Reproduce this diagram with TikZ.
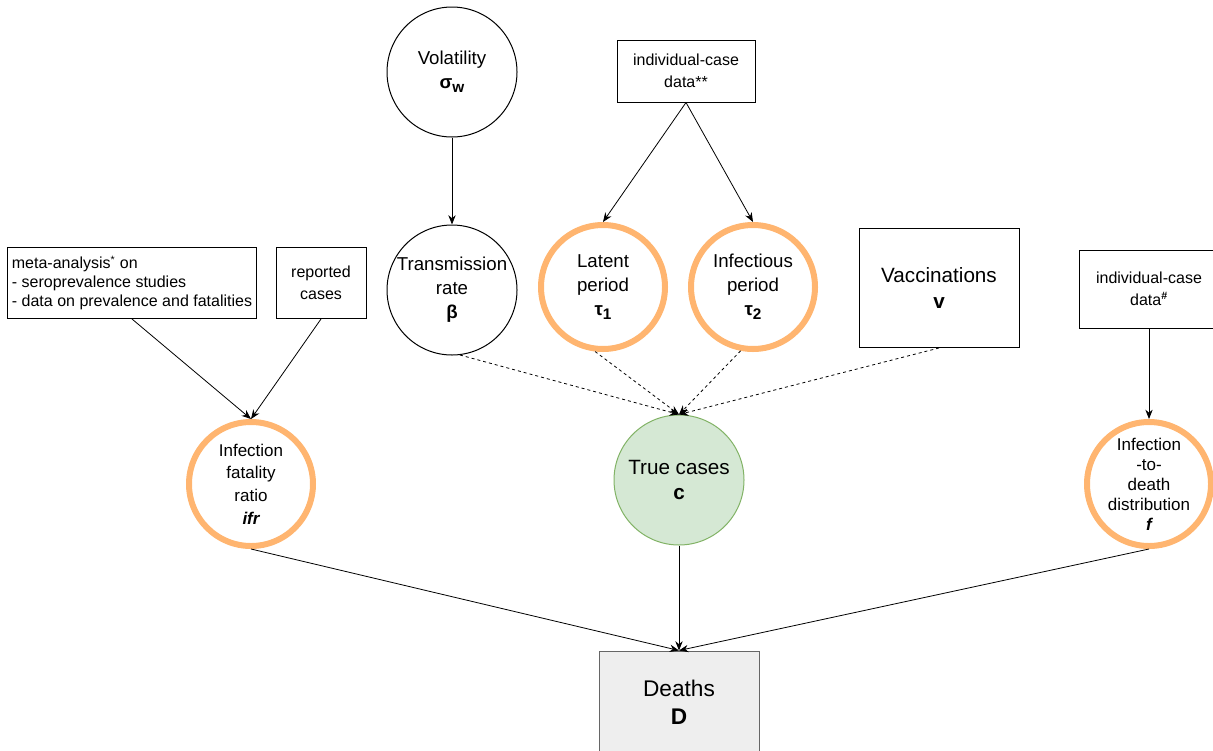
\documentclass[tikz,border=0pt]{standalone}
\usepackage{fontspec}
\setmainfont{Liberation Sans}
\usetikzlibrary{arrows.meta}
\definecolor{ringorange}{RGB}{255,181,112}
\definecolor{truefill}{RGB}{213,232,212}
\definecolor{trueline}{RGB}{130,179,102}
\definecolor{deathfill}{RGB}{238,238,238}
\definecolor{deathline}{RGB}{102,102,102}
\newcommand{\lowsub}[1]{\raisebox{-0.45ex}{\fontsize{11.5}{11.5}\selectfont #1}}
\begin{document}
\begin{tikzpicture}[x=0.75pt,y=-0.75pt,
    param/.style={draw,circle,line width=0.75pt,minimum size=97.5pt,inner sep=-15pt,align=center,font=\fontsize{14}{18}\selectfont},
    prior/.style={param,draw=ringorange,line width=4.5pt,minimum size=93pt},
    datum/.style={draw,rectangle,line width=0.75pt,align=center,font=\fontsize{12}{16.5}\selectfont},
    link/.style={-{Stealth[length=7pt,width=5.5pt]},line width=0.6pt},
    feed/.style={link,dash pattern=on 2.25pt off 2.25pt}]
  \useasboundingbox (0,0) rectangle (1213,750);
  % top row
  \node[param] (vol) at (452,72) {Volatility\\{\bfseries σ\lowsub{w}}};
  \node[datum,minimum width=103.5pt,minimum height=46.5pt] (icd) at (686,71) {individual-case\\data**};
  % parameters of the case model
  \node[param] (trans) at (452,290) {Transmission\\rate\\{\bfseries β}};
  \node[prior] (lat) at (603,287) {Latent\\period\\{\bfseries τ\lowsub{1}}};
  \node[prior] (inf) at (753,287) {Infectious\\period\\{\bfseries τ\lowsub{2}}};
  \node[datum,minimum width=120pt,minimum height=89.25pt,font=\fontsize{15.5}{19}\selectfont] (vacc) at (939,288) {Vaccinations\\{\bfseries v}};
  \node[datum,minimum width=105pt,minimum height=58.5pt] (icd2) at (1149,289) {individual-case\\data\textsuperscript{\bfseries\#}};
  \node[datum,align=left,minimum width=186pt,minimum height=53.25pt,font=\fontsize{12}{14.25}\selectfont] (meta) at (132,283) {meta-analysis\textsuperscript{*} on\\- seroprevalence studies\\- data on prevalence and fatalities};
  \node[datum,minimum width=67.5pt,minimum height=53.25pt] (rep) at (321,283) {reported\\cases};
  % middle row
  \node[prior,font=\fontsize{12.75}{17}\selectfont] (ifr) at (251,484) {Infection\\fatality\\ratio\\{\bfseries\itshape ifr}};
  \node[param,fill=truefill,draw=trueline,font=\fontsize{15.5}{19}\selectfont] (true) at (679,480) {True cases\\{\bfseries c}};
  \node[prior,font=\fontsize{12.75}{15}\selectfont] (itd) at (1149,484) {Infection\\-to-\\death\\distribution\\{\bfseries\itshape f}};
  % observation
  \node[datum,fill=deathfill,draw=deathline,minimum width=120pt,minimum height=76.5pt,font=\fontsize{17}{21}\selectfont] (dth) at (679,702) {Deaths\\{\bfseries D}};

  \draw[link] (vol.south) -- (trans.north);
  \draw[link] (icd.south) -- (lat.north);
  \draw[link] (icd.south) -- (inf.north);
  \draw[link] (meta.south) -- (ifr.north);
  \draw[link] (rep.south) -- (ifr.north);
  \draw[link] (icd2.south) -- (itd.north);
  \draw[feed] (trans.277) -- (true.north);
  \draw[feed] (lat.263) -- (true.north);
  \draw[feed] (inf.259) -- (true.north);
  \draw[feed] (vacc.south) -- (true.north);
  \foreach \src in {ifr,true,itd}
    \draw[link] (\src.south) -- (dth.north);
\end{tikzpicture}
\end{document}
